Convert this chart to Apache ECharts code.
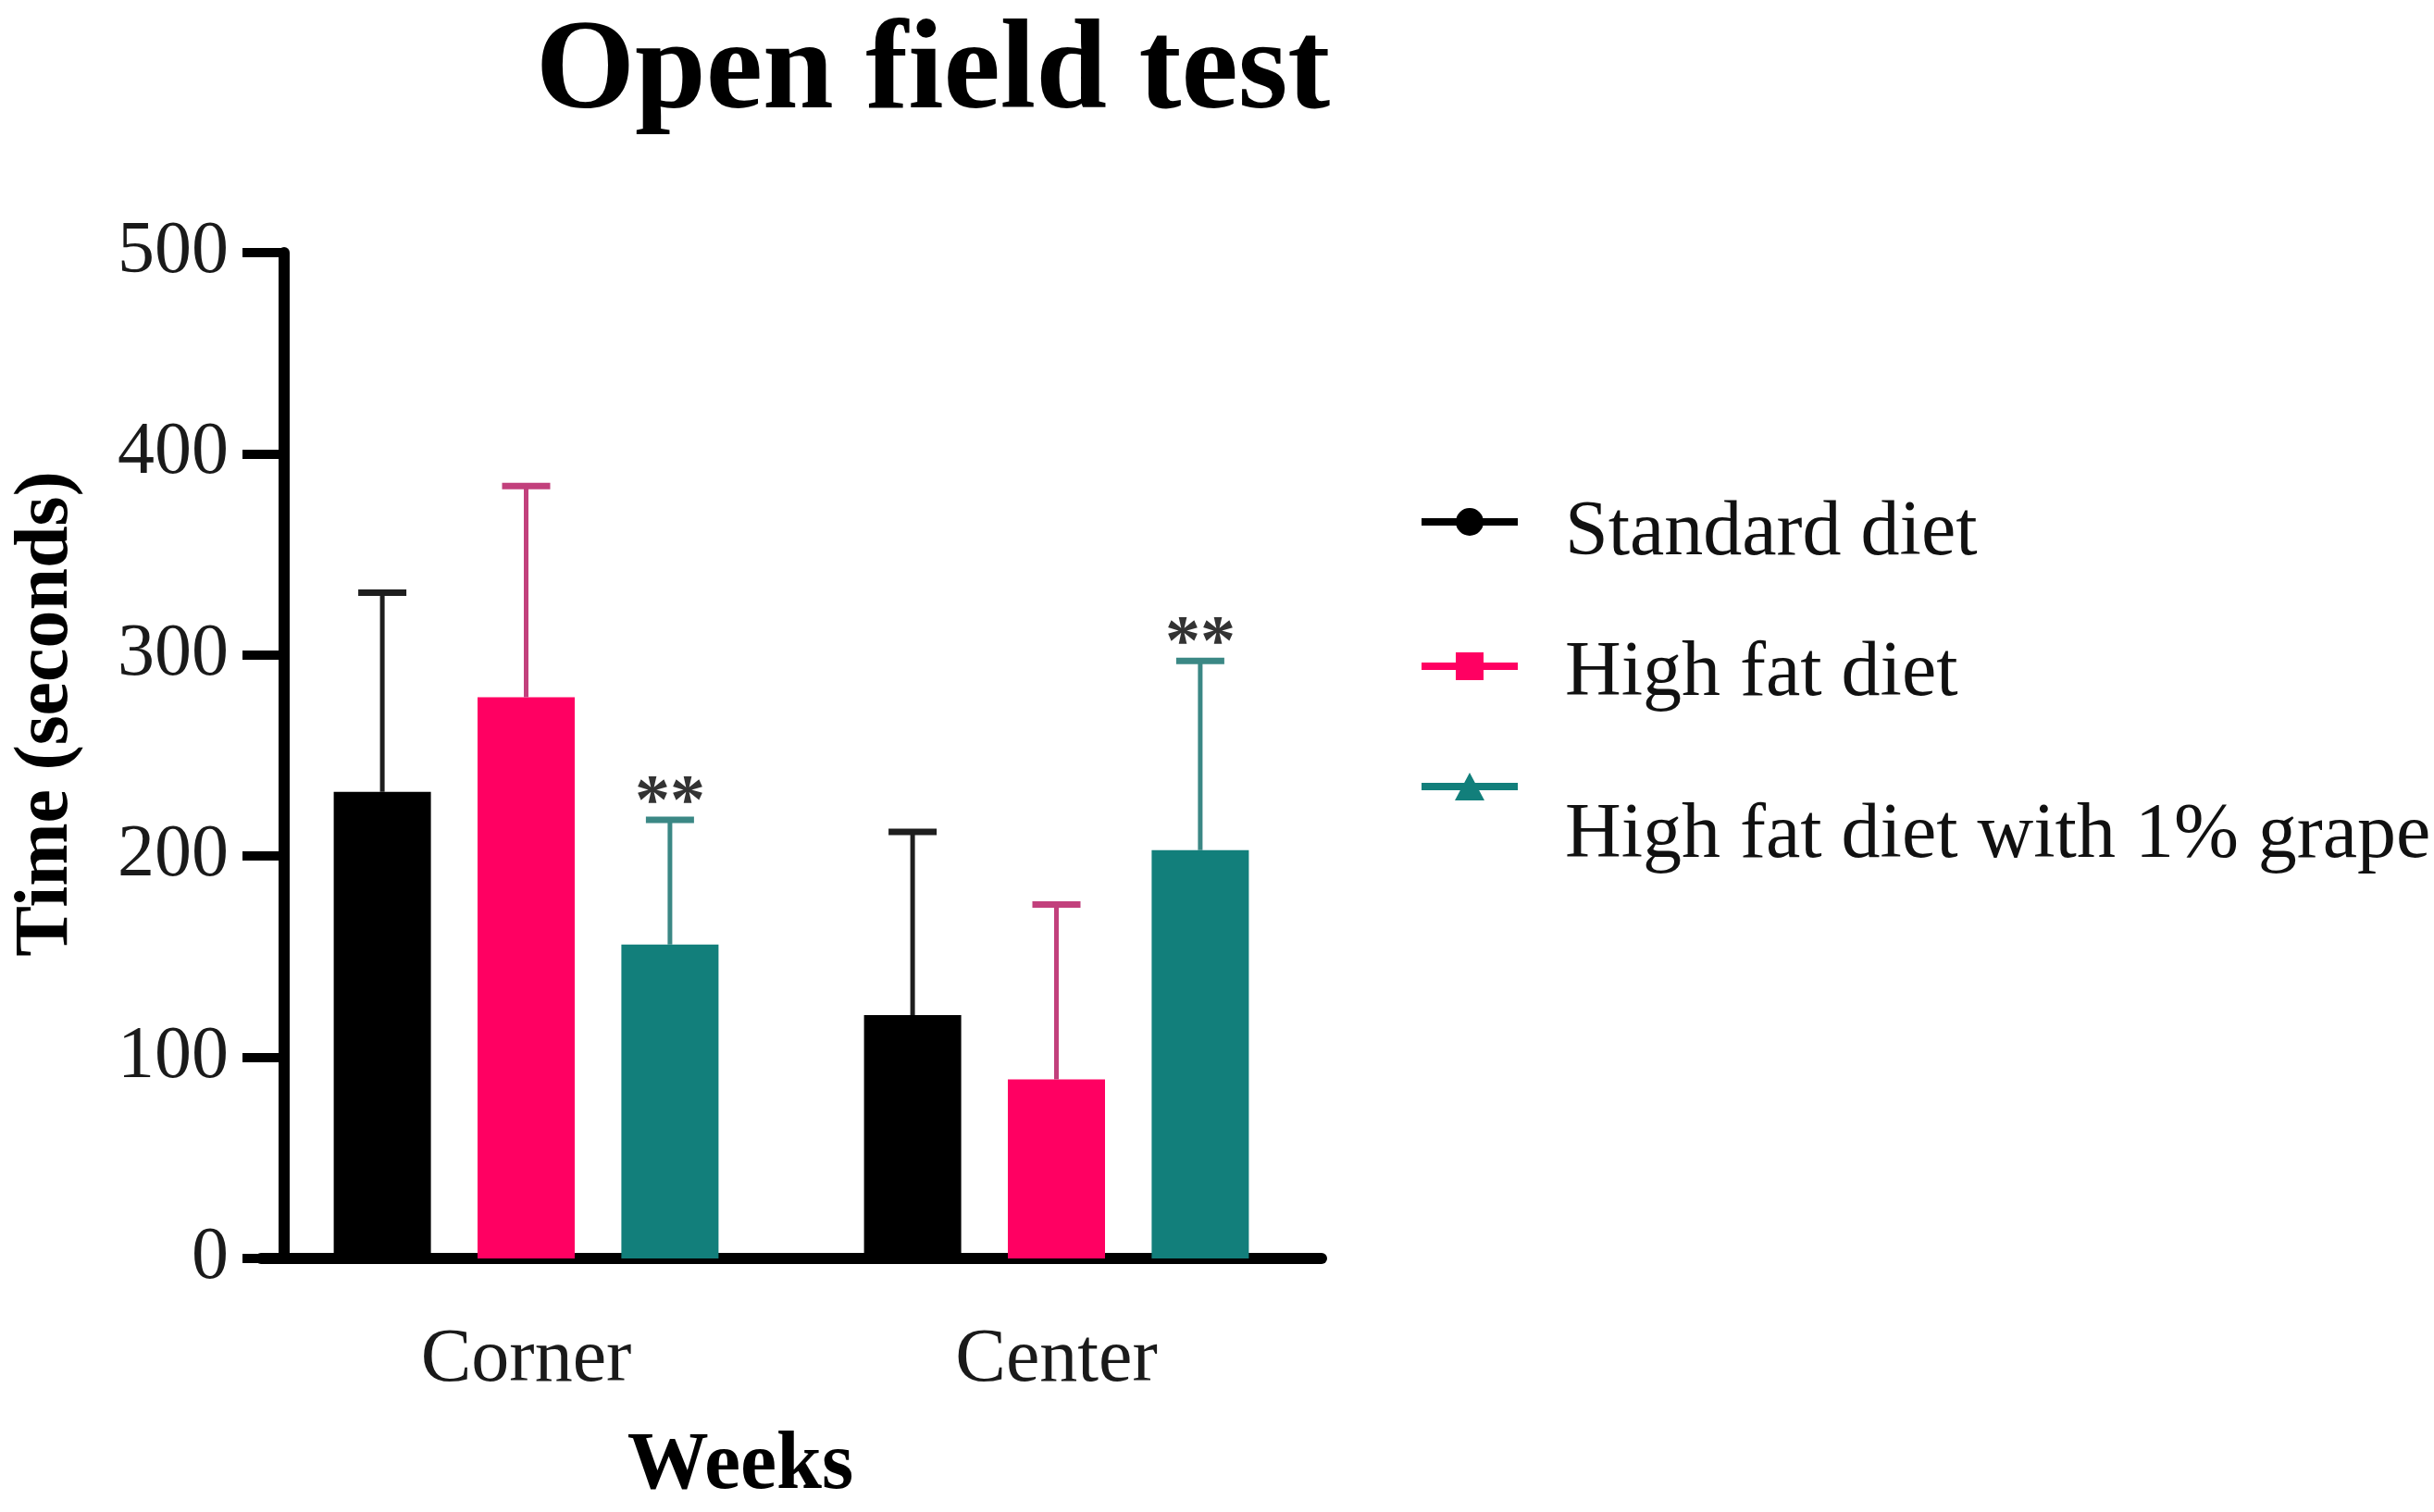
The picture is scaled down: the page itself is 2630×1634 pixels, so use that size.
<!DOCTYPE html>
<html>
<head>
<meta charset="utf-8">
<script src="https://cdn.jsdelivr.net/npm/echarts@6/dist/echarts.min.js"></script>
<style>
html,body{margin:0;padding:0;background:#fff;}
#chart{width:2630px;height:1634px;}
</style>
</head>
<body>
<div id="chart"></div>
<script>
// ---- data ----
const categories = ['Corner', 'Center'];
const seriesNames = ['Standard diet', 'High fat diet', 'High fat diet with 1% grape'];
const standardMean = [232, 121];
const standardUpper = [331, 212];
const hfdMean = [279, 89];
const hfdUpper = [384, 176];
const grapeMean = [156, 203];
const grapeUpper = [218, 297];
const grapeSig = ['**', '**'];
const yMin = 0, yMax = 500, yInterval = 100;

// ---- styling ----
const FONT = '"Liberation Serif", "Times New Roman", serif';
const barColors = ['#000000', '#ff0062', '#127f7b'];
const errColors = ['#1e1e1e', '#c2407c', '#3b8885'];
const BAR_W = 105;
const BAR_GAP = 0.48;
const SPACING = BAR_W * (1 + BAR_GAP);

const means = [standardMean, hfdMean, grapeMean];
const uppers = [standardUpper, hfdUpper, grapeUpper];
const sigs = [null, null, grapeSig];

const icons = [
  'path://M0 11 H104 V19 H0 Z M37 15 A15 15 0 1 1 67 15 A15 15 0 1 1 37 15 Z',
  'path://M0 11 H104 V19 H0 Z M37 0 H67 V30 H37 Z',
  'path://M0 11 H104 V19 H0 Z M52 0 L68 30 H36 Z'
];

function errSeries(idx) {
  return {
    type: 'custom',
    z: 3,
    silent: true,
    data: categories.map((c, i) => [i, means[idx][i], uppers[idx][i]]),
    encode: { x: 0, y: 2 },
    renderItem: function (params, api) {
      const ci = api.value(0);
      const base = api.coord([ci, api.value(1)]);
      const top = api.coord([ci, api.value(2)]);
      const x = base[0] + (idx - 1) * SPACING;
      const children = [
        { type: 'line', shape: { x1: x, y1: base[1], x2: x, y2: top[1] },
          style: { stroke: errColors[idx], lineWidth: 5 } },
        { type: 'line', shape: { x1: x - 26, y1: top[1], x2: x + 26, y2: top[1] },
          style: { stroke: errColors[idx], lineWidth: 7 } }
      ];
      const s = sigs[idx] ? sigs[idx][params.dataIndex] : '';
      if (s) {
        children.push({ type: 'text', style: { text: s, x: x, y: top[1] - 17,
          align: 'center', verticalAlign: 'middle', fontFamily: FONT, fontWeight: 'bold',
          fontSize: 76, fill: '#333' } });
      }
      return { type: 'group', children: children };
    }
  };
}

const barSeries = seriesNames.map((n, i) => ({
  name: n,
  type: 'bar',
  data: means[i],
  barWidth: BAR_W,
  barGap: (BAR_GAP * 100) + '%',
  itemStyle: { color: barColors[i] },
  z: 2
}));

// title horizontal position (centre at x=1008)
const titleFont = 'bold 138px "Liberation Serif"';
const ctx = document.createElement('canvas').getContext('2d');
ctx.font = titleFont;
const titleW = ctx.measureText('Open field test').width;

// legend placement
const legendTops = [504, 664, 737];
const legendLineHeights = [26, 18, 108];
const legends = seriesNames.map((n, i) => ({
  data: [{ name: n, icon: icons[i] }],
  left: 1531,
  top: legendTops[i],
  orient: 'vertical',
  itemWidth: 104,
  itemHeight: 34,
  selectedMode: false,
  formatter: function (name) { return '\n' + name; },
  textStyle: { fontFamily: FONT, fontSize: 84, color: '#111', lineHeight: legendLineHeights[i],
    padding: [0, 0, 0, 46] }
}));

const option = {
  backgroundColor: '#ffffff',
  animation: false,
  title: {
    text: 'Open field test',
    left: 1008 - titleW / 2,
    top: 11,
    padding: 0,
    textStyle: { fontFamily: FONT, fontWeight: 'bold', fontSize: 138, color: '#000', lineHeight: 138 }
  },
  legend: legends,
  grid: { left: 282, top: 273, width: 1146, bottom: 266, containLabel: false },
  xAxis: {
    type: 'category',
    data: categories,
    name: 'Weeks',
    nameLocation: 'middle',
    nameGap: 181,
    nameTextStyle: { fontFamily: FONT, fontWeight: 'bold', fontSize: 88, color: '#000', lineHeight: 88, padding: [0, 110, 0, 0] },
    axisLine: { lineStyle: { color: '#000', width: 12 } },
    axisTick: { alignWithLabel: true, length: 45, lineStyle: { color: '#000', width: 10 } },
    axisLabel: { margin: 69, fontFamily: FONT, fontSize: 82, color: '#1a1a1a', lineHeight: 82 },
    splitLine: { show: false }
  },
  yAxis: {
    type: 'value',
    min: yMin, max: yMax, interval: yInterval,
    offset: -25,
    name: 'Time (seconds)',
    nameLocation: 'middle',
    nameGap: 215,
    nameTextStyle: { fontFamily: FONT, fontWeight: 'bold', fontSize: 82, color: '#000', lineHeight: 82, padding: [0, 0, 0, 90] },
    axisLine: { show: true, lineStyle: { color: '#000', width: 12 } },
    axisTick: { show: true, length: 45, lineStyle: { color: '#000', width: 10 } },
    axisLabel: { margin: 60, fontFamily: FONT, fontSize: 80, color: '#1a1a1a' },
    splitLine: { show: false }
  },
  series: barSeries.concat([errSeries(0), errSeries(1), errSeries(2)])
};

const chart = echarts.init(document.getElementById('chart'), null, { renderer: 'canvas' });
chart.setOption(option);
</script>
</body>
</html>
